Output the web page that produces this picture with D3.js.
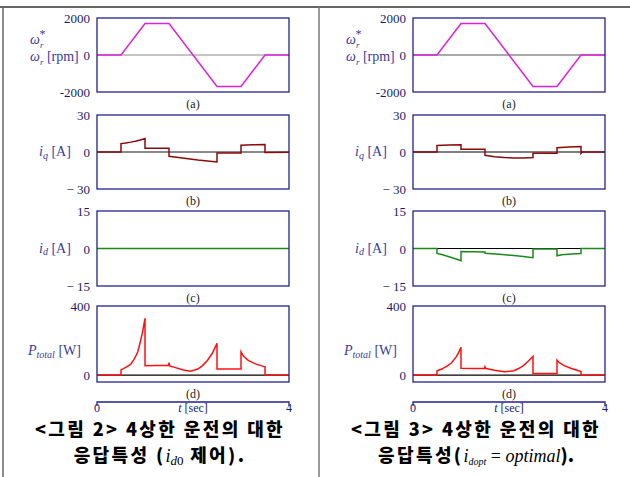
<!DOCTYPE html>
<html>
<head>
<meta charset="utf-8">
<script src="https://cdn.jsdelivr.net/npm/d3@7"></script>
<style>
  body { margin: 0; background: #fff; }
  svg { display: block; }
  .tick text { font-family: "Liberation Serif", "DejaVu Serif", serif; font-size: 13px; fill: #1c1c6e; }
</style>
</head>
<body>
<div id="chart"></div>
<script>
// time axis of every panel
const tDomain = [0, 4]

// speed command / speed (same in both figures)
const speedL = [[0,0],[0.5,0],[1.0,1700],[1.5,1700],[2.5,-1700],[3.0,-1700],[3.5,0],[4,0]]
const speedR = [[0,0],[0.5,0],[1.0,1700],[1.5,1700],[2.5,-1700],[3.0,-1700],[3.5,0],[4,0]]

// q-axis current
const iqL = [[0,0],[0.5,0],[0.5,6.8],[0.6,7.3],[0.7,8.0],[0.8,8.8],[0.9,9.8],[1.0,11.0],[1.0,3.0],[1.5,3.0],
  [1.5,-3.5],[1.7,-4.5],[1.9,-5.5],[2.1,-6.5],[2.3,-7.3],[2.5,-8.1],[2.5,-0.8],[3.0,-0.8],
  [3.0,5.5],[3.25,5.8],[3.5,6.0],[3.5,-0.5],[4,-0.3]]
const iqR = [[0,0],[0.5,0],[0.5,5.3],[0.75,5.6],[1.0,5.9],[1.0,2.2],[1.5,2.2],[1.5,-2.7],[1.7,-3.8],
  [1.9,-4.5],[2.1,-4.9],[2.3,-4.8],[2.5,-4.5],[2.5,-1.0],[3.0,-1.0],[3.0,3.5],[3.25,4.0],[3.5,4.5],
  [3.5,-1.0],[3.52,0],[4,0]]

// d-axis current
const idL = [[0,0],[4,0]]
const idR = [[0,0],[0.5,0],[0.5,-2.0],[0.6,-2.4],[0.7,-3.0],[0.8,-3.6],[0.9,-4.2],[1.0,-4.9],[1.0,-1.2],
  [1.5,-1.4],[1.5,-1.9],[1.8,-2.3],[2.1,-2.8],[2.3,-3.2],[2.5,-3.7],[2.5,-0.2],[3.0,-0.2],
  [3.0,-2.9],[3.1,-2.5],[3.3,-2.2],[3.5,-2.0],[3.5,0],[4,0]]

// total loss power
const pL = [[0,0],[0.5,0],[0.5,30],[0.6,45],[0.7,62],[0.76,87],[0.8,105],[0.85,135],[0.9,190],[0.95,250],[1.0,329],
  [1.0,54],[1.25,55],[1.49,55],[1.5,72],[1.52,52],[1.6,46],[1.8,30],[1.95,23],[2.1,35],[2.2,55],[2.3,85],
  [2.4,125],[2.5,184],[2.5,35],[3.0,35],[3.0,135],[3.05,110],[3.15,85],[3.3,65],[3.45,52],[3.5,48],[3.5,0],[4,0]]
const pR = [[0,0],[0.5,0],[0.5,25],[0.6,35],[0.7,50],[0.8,70],[0.9,105],[0.95,130],[1.0,161],
  [1.0,39],[1.25,38],[1.49,38],[1.5,48],[1.52,38],[1.7,28],[1.9,19],[2.1,25],[2.2,38],[2.3,55],
  [2.4,80],[2.5,109],[2.5,9],[3.0,9],[3.0,87],[3.05,72],[3.15,55],[3.3,38],[3.45,25],[3.5,21],[3.5,0],[4,0]]

const speedTicks = [2000, 0, -2000], speedTickText = ["2000", "0", "-2000"]
const iqTicks = [30, 0, -30], iqTickText = ["30", "0", "\u2212 30"]
const idTicks = [15, 0, -15], idTickText = ["15", "0", "\u2212 15"]
const pTicks = [400, 0], pTickText = ["400", "0"]
const timeTicks = [0, 4]
const subLabels = ["(a)", "(b)", "(c)", "(d)"]

const W = 630, H = 477
const navy = "#22228a", labelColor = "#3b3b9e"

let svg = d3.select("#chart").append("svg").attr("width", W).attr("height", H)

// outer frame
svg.append("line").attr("x1", 0).attr("x2", W).attr("y1", 7).attr("y2", 7).attr("stroke", "#333").attr("stroke-width", 1.5)
svg.append("line").attr("x1", 3).attr("x2", 3).attr("y1", 7).attr("y2", H).attr("stroke", "#666").attr("stroke-width", 1.5)
svg.append("line").attr("x1", 319).attr("x2", 319).attr("y1", 7).attr("y2", H).attr("stroke", "#777").attr("stroke-width", 1.5)

const rows = [
  {y0: 18, y1: 92, dom: [-2000, 2000], ticks: speedTicks, text: speedTickText},
  {y0: 115, y1: 189, dom: [-30, 30], ticks: iqTicks, text: iqTickText},
  {y0: 211, y1: 286, dom: [-15, 15], ticks: idTicks, text: idTickText},
  {y0: 306, y1: 382, dom: [-40, 400], ticks: pTicks, text: pTickText}
]

const panels = [
  {x0: 97, x1: 289, series: [speedL, iqL, idL, pL], zero: ["#8a8a8a", "#8a8a8a", "#8a8a8a", "#000"], zw: [1.2, 2.2, 1.2, 1.2],
   caption1: "<그림 2> 4상한 운전의 대한", cx: 160},
  {x0: 413, x1: 605, series: [speedR, iqR, idR, pR], zero: ["#555", "#000", "#000", "#000"], zw: [1.2, 1.2, 1.2, 1.2],
   caption1: "<그림 3> 4상한 운전의 대한", cx: 476}
]
const lineColors = ["#e020e0", "#8b0a0a", "#1a8a1a", "#ff1010"]

panels.forEach((p, pi) => {
  let x = d3.scaleLinear(tDomain, [p.x0, p.x1])
  rows.forEach((r, ri) => {
    let y = d3.scaleLinear(r.dom, [r.y1, r.y0])
    let g = svg.append("g")
    g.append("line").attr("x1", p.x0).attr("x2", p.x1).attr("y1", y(0)).attr("y2", y(0))
      .attr("stroke", p.zero[ri]).attr("stroke-width", p.zw[ri])
    g.append("path").datum(p.series[ri])
      .attr("d", d3.line().x(d => x(d[0])).y(d => y(d[1])))
      .attr("fill", "none").attr("stroke", lineColors[ri]).attr("stroke-width", 1.5)
    g.append("rect").attr("x", p.x0).attr("y", r.y0).attr("width", p.x1 - p.x0).attr("height", r.y1 - r.y0)
      .attr("fill", "none").attr("stroke", navy).attr("stroke-width", 1.3)
    let ax = g.append("g").attr("transform", `translate(${p.x0 - 4},0)`)
      .call(d3.axisLeft(y).tickValues(r.ticks).tickSize(0).tickFormat((d, i) => r.text[i]))
    ax.select(".domain").remove()
    ax.selectAll("text").attr("dy", "0.35em")
    g.append("text").attr("x", (p.x0 + p.x1) / 2).attr("y", r.y1 + 16)
      .attr("text-anchor", "middle").attr("font-family", "Liberation Serif, serif").attr("font-size", 12)
      .attr("fill", "#222").text(subLabels[ri])
  })

  // y-axis titles
  let ox = p.x0 - 97
  let serif = "Liberation Serif, serif"
  let t1 = svg.append("text").attr("x", ox + 30).attr("y", 44).attr("font-family", serif).attr("font-size", 14).attr("fill", labelColor)
  t1.append("tspan").attr("font-style", "italic").text("\u03c9")
  t1.append("tspan").attr("font-style", "italic").attr("font-size", 9).attr("dy", 4).text("r")
  t1.append("tspan").attr("font-size", 12).attr("dx", -4).attr("dy", -10).text("*")
  let t2 = svg.append("text").attr("x", ox + 30).attr("y", 61).attr("font-family", serif).attr("font-size", 14).attr("fill", labelColor)
  t2.append("tspan").attr("font-style", "italic").text("\u03c9")
  t2.append("tspan").attr("font-style", "italic").attr("font-size", 9).attr("dy", 4).text("r")
  t2.append("tspan").attr("dy", -4).text(" [rpm]")

  let t3 = svg.append("text").attr("x", ox + 39).attr("y", 156).attr("font-family", serif).attr("font-size", 14).attr("fill", labelColor)
  t3.append("tspan").attr("font-style", "italic").text("i")
  t3.append("tspan").attr("font-style", "italic").attr("font-size", 10).attr("dy", 3).text("q")
  t3.append("tspan").attr("dy", -3).text(" [A]")

  let t4 = svg.append("text").attr("x", ox + 39).attr("y", 253).attr("font-family", serif).attr("font-size", 14).attr("fill", labelColor)
  t4.append("tspan").attr("font-style", "italic").text("i")
  t4.append("tspan").attr("font-style", "italic").attr("font-size", 10).attr("dy", 2).text("d")
  t4.append("tspan").attr("dy", -2).text(" [A]")

  let t5 = svg.append("text").attr("x", ox + 28).attr("y", 355).attr("font-family", serif).attr("font-size", 14).attr("fill", labelColor)
  t5.append("tspan").attr("font-style", "italic").text("P")
  t5.append("tspan").attr("font-style", "italic").attr("font-size", 10).attr("dy", 3).text("total")
  t5.append("tspan").attr("dy", -3).text(" [W]")

  // time axis
  svg.append("path").attr("d", `M${p.x0},406V402H${p.x1}V406`).attr("fill", "none").attr("stroke", navy).attr("stroke-width", 1.3)
  svg.selectAll(null).data(timeTicks).enter().append("text")
    .attr("x", d => x(d)).attr("y", 412).attr("text-anchor", "middle")
    .attr("font-family", serif).attr("font-size", 12).attr("fill", "#1c1c6e").text(d => d)
  let tt = svg.append("text").attr("x", (p.x0 + p.x1) / 2).attr("y", 412).attr("text-anchor", "middle")
    .attr("font-family", serif).attr("font-size", 12).attr("fill", "#1c1c6e")
  tt.append("tspan").attr("font-style", "italic").text("t")
  tt.append("tspan").text(" [sec]")

  // captions
  let cap = "'Noto Sans CJK KR', 'Noto Sans', sans-serif"
  svg.append("text").attr("x", p.cx).attr("y", 436).attr("text-anchor", "middle")
    .attr("font-family", cap).attr("font-weight", 900).attr("font-size", 18).attr("letter-spacing", 2.4)
    .attr("fill", "#000").text(p.caption1)
  let c2 = svg.append("text").attr("x", p.cx).attr("y", 462).attr("text-anchor", "middle")
    .attr("font-family", cap).attr("font-weight", 900).attr("font-size", 18).attr("fill", "#000")
  if (pi === 0) {
    c2.append("tspan").attr("letter-spacing", 2.4).text("응답특성 (")
    c2.append("tspan").attr("font-family", serif).attr("font-weight", "normal").attr("font-style", "italic").text("i")
    c2.append("tspan").attr("font-family", serif).attr("font-weight", "normal").attr("font-style", "italic").attr("font-size", 13).attr("dy", 3).text("d")
    c2.append("tspan").attr("font-family", serif).attr("font-weight", "normal").attr("font-size", 13).text("0")
    c2.append("tspan").attr("dy", -3).attr("letter-spacing", 2.4).text(" 제어).")
  } else {
    c2.append("tspan").attr("letter-spacing", 2.4).text("응답특성(")
    c2.append("tspan").attr("font-family", serif).attr("font-weight", "normal").attr("font-style", "italic").text("i")
    c2.append("tspan").attr("font-family", serif).attr("font-weight", "normal").attr("font-style", "italic").attr("font-size", 10).attr("dy", 3).text("dopt")
    c2.append("tspan").attr("font-family", serif).attr("font-weight", "normal").attr("dy", -3).text(" = ")
    c2.append("tspan").attr("font-family", serif).attr("font-weight", "normal").attr("font-style", "italic").text("optimal")
    c2.append("tspan").text(").")
  }
})
</script>
</body>
</html>
